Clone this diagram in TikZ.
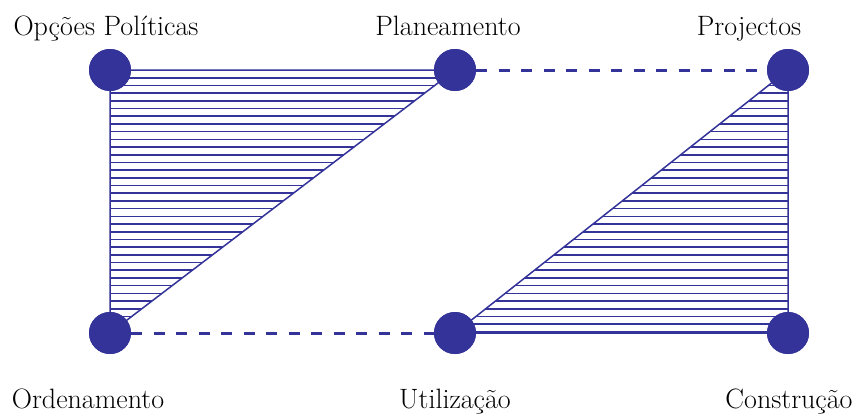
\documentclass[tikz,border=0pt]{standalone}
\definecolor{navy}{HTML}{333399}
\begin{document}
\begin{tikzpicture}[x=1pt,y=-1pt,
  dot/.style={circle,fill=navy,minimum size=42pt,inner sep=0pt},
  lbl/.style={font=\fontsize{28}{34}\selectfont,anchor=base,inner sep=0pt},
  hatchline/.style={navy,line width=1.6pt},
  edge/.style={navy,line width=1.5pt},
  link/.style={navy,line width=3pt,dash pattern=on 11pt off 11.5pt}]
\useasboundingbox (0,0) rectangle (857,413);

% anchor points of the six stages
\coordinate (A) at (110,70);
\coordinate (B) at (455,70);
\coordinate (C) at (788,70);
\coordinate (D) at (110,333);
\coordinate (E) at (455,333);
\coordinate (F) at (788,333);

% hatched triangles
\begin{scope}
  \clip (A) -- (B) -- (D) -- cycle;
  \foreach \k in {0,...,34} \draw[hatchline] (100,70+7.7*\k) -- (470,70+7.7*\k);
\end{scope}
\begin{scope}
  \clip (C) -- (F) -- (E) -- cycle;
  \foreach \k in {0,...,34} \draw[hatchline] (440,70+7.7*\k) -- (800,70+7.7*\k);
\end{scope}

% stage markers
\node[dot] (op) at (A) {};
\node[dot] (pl) at (B) {};
\node[dot] (pr) at (C) {};
\node[dot] (or) at (D) {};
\node[dot] (ut) at (E) {};
\node[dot] (co) at (F) {};

% triangle outlines
\draw[edge] (op.center) -- (pl.center) -- (or.center) -- cycle;
\draw[edge] (pr.center) -- (co.center) -- (ut.center) -- cycle;

% dashed links
\draw[link] (pl.east) -- (pr.west);
\draw[link] (or.east) -- (ut.west);

% redraw markers on top
\foreach \n in {op,pl,pr,or,ut,co} \fill[navy] (\n) circle (21pt);

% labels
\node[lbl] (t1) at (106,35) {Opções Políticas};
\node[lbl] (t2) at (448,35) {Planeamento};
\node[lbl] (t3) at (749,35) {Projectos};
\node[lbl] (t4) at (88,408) {Ordenamento};
\node[lbl] (t5) at (455,408) {Utilização};
\node[lbl] (t6) at (789,408) {Construção};
\end{tikzpicture}
\end{document}
